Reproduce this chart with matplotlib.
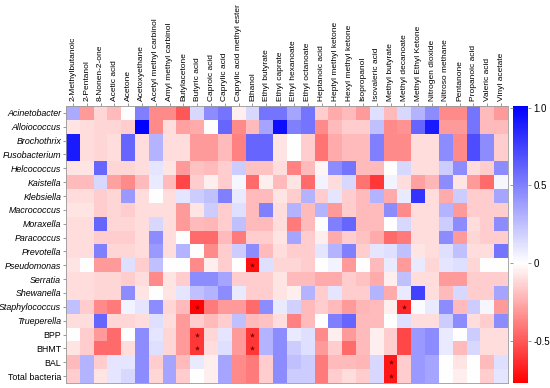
import numpy as np
import matplotlib
matplotlib.use('Agg')
import matplotlib.pyplot as plt
from matplotlib.colors import LinearSegmentedColormap, Normalize

volatiles = ['2-Methylbutanoic', '2-Pentanol', '8-Nonen-2-one', 'Acetic acid', 'Acetone',
             'Acetoxyethane', 'Acetyl methyl carbinol', 'Amyl methyl carbinol', 'Butylacetone',
             'Butyric acid', 'Caproic acid', 'Caprylic acid', 'Caprylic acid methyl ester',
             'Ethanol', 'Ethyl butyrate', 'Ethyl caprate', 'Ethyl hexanoate', 'Ethyl octanoate',
             'Heptanoic acid', 'Heptyl methyl ketone', 'Hexyl methyl ketone', 'Isopropanol',
             'Isovaleric acid', 'Methyl butyrate', 'Methyl decanoate', 'Methyl Ethyl Ketone',
             'Nitrogen dioxide', 'Nitroso methane', 'Pentanone', 'Propanoic acid',
             'Valeric acid', 'Vinyl acetate']

bacteria = ['Acinetobacter', 'Alloiococcus', 'Brochothrix', 'Fusobacterium', 'Helcococcus',
            'Kaistella', 'Klebsiella', 'Macrococcus', 'Moraxella', 'Paracoccus', 'Prevotella',
            'Pseudomonas', 'Serratia', 'Shewanella', 'Staphylococcus', 'Trueperella',
            'BPP', 'BHMT', 'BAL', 'Total bacteria']
italic_rows = 16  # genus names are in italics

corr = [
    [0.33, -0.3, -0.12, -0.2, 0.0, 0.5, -0.35, -0.35, -0.5, 0.15, 0.45, 0.55, -0.05, 0.15, 0.55, 0.55, 0.35, 0.55, -0.15, -0.25, -0.2, -0.3, 0.12, -0.2, 0.15, 0.3, 0.45, -0.35, -0.35, 0.55, -0.2, -0.3],
    [-0.08, -0.1, -0.12, -0.12, -0.15, 1.0, -0.35, -0.1, -0.28, -0.25, 0.0, 0.6, -0.35, -0.2, 0.35, 0.95, 0.5, 0.55, -0.35, -0.2, -0.15, -0.15, 0.25, -0.35, -0.32, 0.6, 0.9, -0.3, -0.3, 0.55, -0.2, -0.2],
    [0.9, -0.1, -0.12, -0.1, 0.6, -0.1, 0.3, -0.1, -0.1, -0.3, -0.3, -0.2, -0.38, 0.6, 0.6, -0.08, 0.0, -0.15, -0.42, -0.25, -0.2, -0.2, 0.5, -0.35, -0.35, -0.1, -0.1, 0.45, -0.35, 0.7, 0.45, -0.15],
    [0.9, -0.1, -0.12, -0.1, 0.6, -0.1, 0.3, -0.1, -0.1, -0.3, -0.3, -0.2, -0.38, 0.6, 0.6, -0.08, 0.0, -0.15, -0.42, -0.25, -0.2, -0.2, 0.5, -0.35, -0.35, -0.1, -0.1, 0.45, -0.35, 0.7, 0.45, -0.15],
    [-0.08, -0.08, 0.6, -0.12, -0.12, -0.1, 0.1, -0.08, -0.3, -0.18, -0.2, -0.15, 0.2, -0.18, -0.18, -0.1, -0.38, -0.2, -0.03, 0.45, 0.55, -0.2, -0.2, 0.0, 0.15, -0.1, -0.1, 0.2, 0.45, -0.1, -0.15, 0.45],
    [-0.2, -0.2, 0.15, -0.28, -0.35, -0.2, 0.08, -0.2, -0.55, -0.15, -0.05, -0.15, 0.03, -0.45, -0.05, -0.2, -0.08, -0.45, 0.05, -0.1, 0.15, -0.42, -0.6, 0.05, -0.1, -0.28, -0.22, 0.45, -0.08, -0.3, -0.45, 0.03],
    [-0.1, -0.1, -0.15, -0.12, 0.4, -0.1, 0.0, -0.1, 0.1, 0.2, 0.25, 0.5, 0.08, -0.2, -0.2, -0.08, -0.15, 0.3, -0.15, 0.1, -0.15, -0.2, 0.3, -0.25, 0.08, 0.8, -0.1, -0.25, 0.2, -0.15, -0.15, 0.35],
    [-0.08, -0.08, -0.15, -0.12, -0.15, -0.1, -0.1, -0.1, -0.3, -0.08, 0.2, -0.15, 0.12, -0.2, 0.5, -0.1, 0.3, -0.2, 0.3, -0.3, -0.15, -0.2, -0.2, 0.45, -0.35, -0.1, -0.1, 0.3, -0.3, -0.15, -0.15, -0.15],
    [-0.1, -0.1, 0.6, -0.12, -0.12, -0.1, 0.15, -0.1, -0.3, -0.2, -0.22, -0.15, 0.25, -0.2, -0.2, -0.1, -0.4, -0.2, 0.0, 0.5, 0.6, -0.2, -0.2, 0.0, 0.15, -0.1, -0.1, 0.2, 0.45, -0.1, -0.15, 0.45],
    [-0.1, -0.1, -0.15, -0.15, -0.15, -0.1, 0.45, -0.1, 0.0, -0.45, -0.45, -0.2, -0.4, -0.15, -0.15, -0.08, 0.35, -0.15, -0.05, -0.25, -0.15, -0.18, -0.25, -0.45, -0.4, -0.1, -0.1, 0.45, -0.3, -0.12, -0.15, -0.15],
    [-0.1, -0.1, 0.5, -0.12, -0.12, -0.1, 0.4, -0.1, 0.3, 0.0, -0.35, -0.15, 0.2, 0.45, -0.2, -0.1, -0.15, -0.15, 0.1, 0.3, 0.5, -0.15, 0.1, 0.12, 0.25, -0.08, -0.1, 0.12, 0.25, -0.1, -0.1, 0.55],
    [-0.08, 0.0, -0.3, -0.3, 0.12, -0.15, 0.25, 0.0, 0.0, -0.35, -0.05, -0.15, 0.0, -0.72, 0.12, -0.12, -0.12, -0.15, 0.0, 0.05, -0.3, 0.0, -0.2, 0.08, -0.3, 0.08, -0.12, 0.1, 0.12, -0.12, 0.0, 0.0],
    [-0.1, -0.1, -0.12, -0.12, -0.15, -0.1, -0.35, -0.08, -0.15, 0.45, 0.45, 0.35, -0.15, -0.15, -0.15, -0.08, -0.2, -0.2, -0.25, -0.25, -0.15, -0.18, -0.25, -0.05, 0.25, -0.1, -0.1, -0.3, -0.3, -0.15, -0.15, -0.15],
    [-0.1, -0.1, -0.12, -0.12, 0.45, -0.08, 0.0, -0.08, 0.1, 0.25, 0.3, 0.45, 0.08, -0.15, -0.15, -0.08, -0.05, 0.3, -0.15, 0.1, -0.15, -0.15, 0.3, -0.25, 0.08, 0.75, -0.1, -0.2, 0.15, -0.15, -0.15, 0.35],
    [0.25, -0.15, -0.35, -0.4, 0.05, 0.1, 0.45, -0.12, -0.2, -0.75, -0.4, -0.3, -0.3, -0.45, 0.45, 0.08, 0.18, -0.2, -0.15, -0.2, -0.3, -0.22, -0.2, -0.05, -0.65, 0.02, 0.08, 0.45, -0.2, 0.2, 0.03, -0.3],
    [-0.1, -0.1, 0.6, -0.12, -0.12, -0.1, 0.12, -0.1, -0.3, -0.15, -0.2, -0.15, 0.25, -0.2, -0.18, -0.1, -0.38, -0.2, 0.0, 0.5, 0.6, -0.2, -0.2, 0.0, 0.12, -0.1, -0.1, 0.2, 0.45, -0.1, -0.15, 0.45],
    [0.0, -0.15, -0.3, -0.45, 0.0, 0.45, 0.1, -0.12, -0.3, -0.6, -0.12, 0.1, -0.3, -0.6, 0.3, 0.45, 0.08, 0.12, -0.35, -0.05, -0.3, -0.2, -0.05, -0.15, -0.55, 0.4, 0.45, 0.08, 0.0, 0.2, -0.1, -0.1],
    [-0.08, -0.15, -0.45, -0.45, -0.1, 0.45, 0.12, -0.12, -0.3, -0.6, -0.1, 0.12, -0.3, -0.6, 0.3, 0.45, 0.2, 0.12, -0.3, -0.15, -0.45, -0.2, -0.05, -0.15, -0.55, 0.4, 0.45, 0.08, -0.2, 0.15, -0.1, -0.1],
    [-0.2, 0.3, -0.15, 0.1, 0.1, 0.45, -0.15, 0.35, -0.2, 0.08, -0.05, 0.35, -0.35, -0.4, -0.15, 0.45, 0.25, 0.2, -0.4, -0.2, -0.2, -0.22, 0.15, -0.7, -0.15, 0.4, 0.35, 0.0, -0.08, 0.0, -0.2, 0.12],
    [-0.15, 0.3, -0.08, 0.1, 0.15, 0.45, -0.12, 0.35, -0.15, 0.0, -0.05, 0.35, -0.35, -0.4, -0.15, 0.45, 0.2, 0.2, -0.4, -0.15, -0.1, -0.15, 0.15, -0.7, -0.15, 0.4, 0.35, 0.0, -0.05, 0.0, -0.15, 0.1],
]

# significant correlations (row, column)
sig_rows = [11, 14, 14, 16, 16, 17, 17, 18, 19]
sig_cols = [13, 9, 24, 9, 13, 9, 13, 23, 23]

vmin, vmax = -0.77, 1.01
mid = -vmin / (vmax - vmin)
cmap = LinearSegmentedColormap.from_list('rwb', [(0, '#ff0000'), (mid, '#ffffff'), (1, '#0000ff')])

fig = plt.figure(figsize=(5.5, 3.88), dpi=100)
ax = fig.add_axes([0.12, 0.0129, 0.8036, 0.7139])
cax = fig.add_axes([0.9327, 0.0129, 0.0273, 0.7139])

data = np.array(corr)
im = ax.imshow(data, cmap=cmap, norm=Normalize(vmin, vmax), aspect='auto', interpolation='nearest')
ax.scatter(sig_cols, sig_rows, marker='*', s=14, color='#7a0000', linewidths=0)

ax.set_xticks(range(len(volatiles)))
ax.set_xticklabels(volatiles, rotation=90, fontsize=6.0, family='Liberation Sans')
ax.xaxis.tick_top()
ax.set_yticks(range(len(bacteria)))
ax.set_yticklabels(bacteria, fontsize=6.4, family='Liberation Sans')
for i, lab in enumerate(ax.get_yticklabels()):
    if i < italic_rows:
        lab.set_style('italic')
ax.tick_params(length=2, width=0.6, color='#888888', pad=1.5)
for s in ax.spines.values():
    s.set_color('#999999')
    s.set_linewidth(0.6)

cb = fig.colorbar(im, cax=cax, ticks=[1.0, 0.5, 0, -0.5])
cb.ax.set_yticklabels(['1.0', '0.5', '0', '-0.5'], fontsize=7, family='Liberation Sans')
cb.ax.tick_params(length=2, width=0.6, color='#888888', left=True, pad=2)
cb.outline.set_visible(False)

plt.savefig('out.png', dpi=100)
